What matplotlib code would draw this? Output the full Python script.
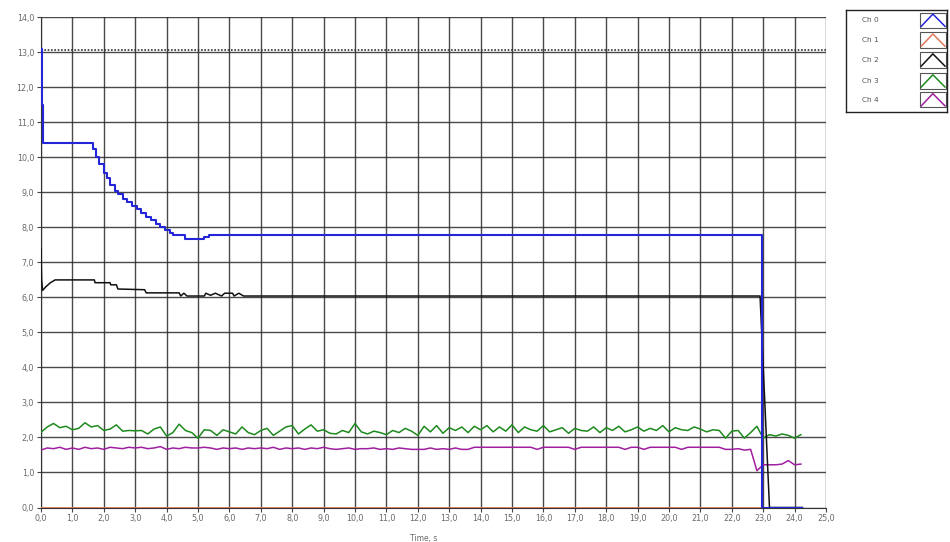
import numpy as np
import matplotlib.pyplot as plt
from matplotlib.patches import Rectangle

# Ch 0: stepped trace, time in s
ch0_t = [0.0, 0.03, 0.05, 1.55, 1.65, 1.75, 1.85, 2.0, 2.1, 2.2, 2.35, 2.45, 2.6,
         2.75, 2.9, 3.05, 3.2, 3.35, 3.5, 3.65, 3.8, 3.95, 4.1, 4.2, 4.5, 4.6,
         5.1, 5.2, 5.35, 22.88, 22.95, 24.25]
ch0_v = [13.1, 11.5, 10.4, 10.4, 10.25, 10.0, 9.8, 9.55, 9.4, 9.2, 9.05, 8.95, 8.82,
         8.72, 8.62, 8.52, 8.42, 8.3, 8.2, 8.1, 8.0, 7.92, 7.84, 7.78, 7.78, 7.68,
         7.68, 7.72, 7.78, 7.78, 0.0, 0.0]

# Ch 2: corner points of the trace
ch2_t = [0.0, 0.02, 0.05, 0.15, 0.3, 0.45, 1.7, 1.72, 2.2, 2.22, 2.4, 2.45, 3.3,
         3.35, 4.4, 4.45, 4.55, 4.65, 5.2, 5.25, 5.4, 5.55, 5.75, 5.85, 6.1,
         6.15, 6.3, 6.45, 22.9, 23.2, 24.25]
ch2_v = [7.4, 6.5, 6.2, 6.3, 6.42, 6.5, 6.5, 6.42, 6.42, 6.36, 6.36, 6.24, 6.22,
         6.13, 6.13, 6.04, 6.12, 6.04, 6.04, 6.12, 6.06, 6.12, 6.04, 6.12, 6.12,
         6.04, 6.12, 6.04, 6.04, 0.0, 0.0]

ch1_t = [0.0, 24.25]
ch1_v = [0.0, 0.0]

# Ch 3 / Ch 4: sampled every 0.2 s
ch3_v = [2.15, 2.30, 2.40, 2.28, 2.32, 2.22, 2.26, 2.42, 2.30, 2.34,
         2.20, 2.24, 2.36, 2.18, 2.20, 2.19, 2.20, 2.10, 2.24, 2.30,
         2.04, 2.14, 2.38, 2.20, 2.14, 1.98, 2.22, 2.20, 2.06, 2.22,
         2.16, 2.10, 2.30, 2.14, 2.08, 2.20, 2.26, 2.06, 2.18, 2.30,
         2.34, 2.10, 2.24, 2.36, 2.18, 2.22, 2.12, 2.10, 2.20, 2.14,
         2.40, 2.16, 2.10, 2.18, 2.14, 2.08, 2.20, 2.14, 2.26, 2.18,
         2.06, 2.32, 2.16, 2.34, 2.12, 2.28, 2.20, 2.30, 2.14, 2.32,
         2.22, 2.34, 2.16, 2.30, 2.18, 2.36, 2.14, 2.30, 2.22, 2.18,
         2.34, 2.16, 2.22, 2.28, 2.12, 2.26, 2.20, 2.18, 2.30, 2.14,
         2.28, 2.20, 2.32, 2.16, 2.22, 2.30, 2.18, 2.26, 2.20, 2.34,
         2.16, 2.28, 2.22, 2.20, 2.30, 2.24, 2.16, 2.22, 2.20, 1.98,
         2.18, 2.20, 1.98, 2.14, 2.32, 1.98, 2.08, 2.04, 2.10, 2.06,
         1.98, 2.08]
ch4_v = [1.64, 1.70, 1.68, 1.72, 1.66, 1.70, 1.66, 1.72, 1.68, 1.70,
         1.66, 1.72, 1.70, 1.68, 1.72, 1.70, 1.72, 1.68, 1.70, 1.74,
         1.66, 1.70, 1.68, 1.72, 1.70, 1.70, 1.72, 1.70, 1.66, 1.70,
         1.68, 1.70, 1.66, 1.70, 1.68, 1.70, 1.68, 1.72, 1.66, 1.70,
         1.68, 1.70, 1.66, 1.70, 1.68, 1.72, 1.68, 1.66, 1.68, 1.70,
         1.66, 1.68, 1.68, 1.70, 1.66, 1.68, 1.66, 1.70, 1.68, 1.66,
         1.66, 1.66, 1.70, 1.66, 1.68, 1.66, 1.70, 1.66, 1.66, 1.72,
         1.72, 1.72, 1.72, 1.72, 1.72, 1.72, 1.72, 1.72, 1.72, 1.66,
         1.72, 1.72, 1.72, 1.72, 1.72, 1.66, 1.72, 1.72, 1.72, 1.72,
         1.72, 1.72, 1.72, 1.66, 1.72, 1.72, 1.66, 1.72, 1.72, 1.72,
         1.72, 1.72, 1.66, 1.72, 1.72, 1.72, 1.72, 1.72, 1.72, 1.66,
         1.66, 1.68, 1.64, 1.66, 1.05, 1.22, 1.22, 1.22, 1.24, 1.34,
         1.22, 1.24]
sample_t = np.arange(len(ch3_v)) * 0.2

limit_level = 13.07

channels = ['Ch 0', 'Ch 1', 'Ch 2', 'Ch 3', 'Ch 4']
colors = ['#2424d8', '#e0785a', '#111111', '#1d8a1d', '#a01fa0']

fig = plt.figure(figsize=(9.5, 5.42), dpi=100)
ax = fig.add_axes([41 / 950, 1 - 507.5 / 542, 785 / 950, 490.2 / 542])

ax.plot([0, 25], [limit_level, limit_level], color='#333333', ls=(0, (1, 1)), lw=1.2, zorder=2)
ax.plot(ch1_t, ch1_v, color=colors[1], lw=1.3, zorder=3)
ax.plot(sample_t, ch3_v, color=colors[3], lw=1.1, zorder=3)
ax.plot(sample_t, ch4_v, color=colors[4], lw=1.1, zorder=3)
ax.plot(ch2_t, ch2_v, color=colors[2], lw=1.1, zorder=4)
ax.plot(ch0_t, ch0_v, color=colors[0], lw=1.5, drawstyle='steps-post', zorder=5)

ax.set_xlim(0, 25)
ax.set_ylim(0, 14)
ax.set_xticks(np.arange(0, 26, 1))
ax.set_yticks(np.arange(0, 15, 1))
ax.set_xticklabels([f'{v:.1f}'.replace('.', ',') for v in range(26)])
ax.set_yticklabels([f'{v:.1f}'.replace('.', ',') for v in range(15)])
ax.tick_params(labelsize=5.8, colors='#6a6a6a', length=3, width=0.8, pad=2)
ax.tick_params(axis='both', color='#444444')
ax.grid(True, color='#2a2a2a', lw=1.0, alpha=0.85)
ax.set_axisbelow(True)
for side in ['top', 'right']:
    ax.spines[side].set_visible(False)
ax.spines['left'].set_color('#333333')
ax.spines['bottom'].set_color('#333333')
ax.set_xlabel('Time, s', fontsize=5.5, color='#6a6a6a', labelpad=2)
ax.xaxis.set_label_coords(0.487, -0.055)

# channel legend with small chevron icons
lax = fig.add_axes([846 / 950, 1 - 112 / 542, 101 / 950, 102 / 542])
lax.set_xlim(0, 1)
lax.set_ylim(0, 1)
lax.set_xticks([])
lax.set_yticks([])
for s in lax.spines.values():
    s.set_linewidth(1.0)
    s.set_color('#222222')
rows = [0.9, 0.705, 0.51, 0.305, 0.12]
for name, c, yr in zip(channels, colors, rows):
    lax.text(0.16, yr, name, fontsize=5.3, color='#555555', va='center', ha='left')
    lax.add_patch(Rectangle((0.735, yr - 0.075), 0.255, 0.15, fill=False,
                            ec='#555555', lw=0.8))
    lax.plot([0.745, 0.86, 0.98], [yr - 0.06, yr + 0.06, yr - 0.06], color=c, lw=1.1)

fig.savefig('out.png', dpi=100)
